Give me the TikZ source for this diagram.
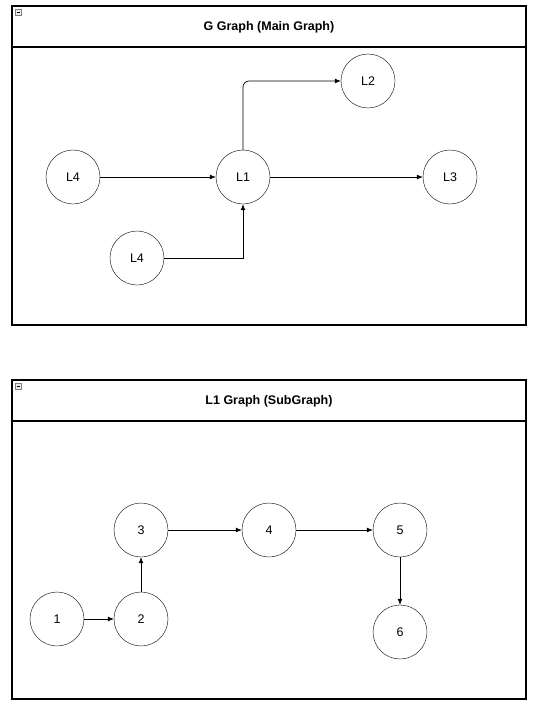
\documentclass[tikz,border=0pt]{standalone}
\usepackage{fontspec}
\setmainfont{Liberation Sans}
\usetikzlibrary{arrows.meta,positioning}
\tikzset{
    vtxsty/.style={draw,circle,minimum size=54pt,inner sep=0pt,font=\fontsize{12.5}{14}\selectfont},
    boxsty/.style={draw,line width=1.8pt},
    titlesty/.style={font=\bfseries\fontsize{12.5}{14}\selectfont},
    edgesty/.style={-{Latex[length=6pt,width=5pt]},line width=0.7pt},
    iconsty/.style={draw=gray,fill=gray!15,line width=0.6pt},
}

\begin{document}
\begin{tikzpicture}[x=1pt,y=-1pt]
  \useasboundingbox (0,0) rectangle (542,712);

  % main graph container
  \draw[boxsty] (12,6) rectangle (526,325);
  \draw[boxsty] (12,47) -- (526,47);
  \draw[iconsty] (15,9) rectangle (21,15);
  \draw[line width=0.6pt] (16.5,12) -- (19.5,12);
  \node[titlesty] (gtitle) at (269,27) {G Graph (Main Graph)};

  \node[vtxsty] (L4a) at (73,177) {L4};
  \node[vtxsty] (L1) at (243,177) {L1};
  \node[vtxsty] (L2) at (368,81) {L2};
  \node[vtxsty] (L3) at (450,177) {L3};
  \node[vtxsty] (L4b) at (137,258) {L4};

  \draw[edgesty] (L4a) -- (L1);
  \draw[edgesty] (L1) -- (L3);
  \draw[edgesty,rounded corners=6pt] (L1.north) |- (L2.west);
  \draw[edgesty] (L4b.east) -| (L1.south);

  % sub graph container
  \draw[boxsty] (12,380) rectangle (526,699);
  \draw[boxsty] (12,421) -- (526,421);
  \draw[iconsty] (15,383) rectangle (21,389);
  \draw[line width=0.6pt] (16.5,386) -- (19.5,386);
  \node[titlesty] (stitle) at (269,401) {L1 Graph (SubGraph)};

  \node[vtxsty] (n1) at (57,619) {1};
  \node[vtxsty] (n2) at (141,619) {2};
  \node[vtxsty] (n3) at (141,530) {3};
  \node[vtxsty] (n4) at (269,530) {4};
  \node[vtxsty] (n5) at (400,530) {5};
  \node[vtxsty] (n6) at (400,632) {6};

  \draw[edgesty] (n1) -- (n2);
  \draw[edgesty] (n2) -- (n3);
  \draw[edgesty] (n3) -- (n4);
  \draw[edgesty] (n4) -- (n5);
  \draw[edgesty] (n5) -- (n6);
\end{tikzpicture}
\end{document}
